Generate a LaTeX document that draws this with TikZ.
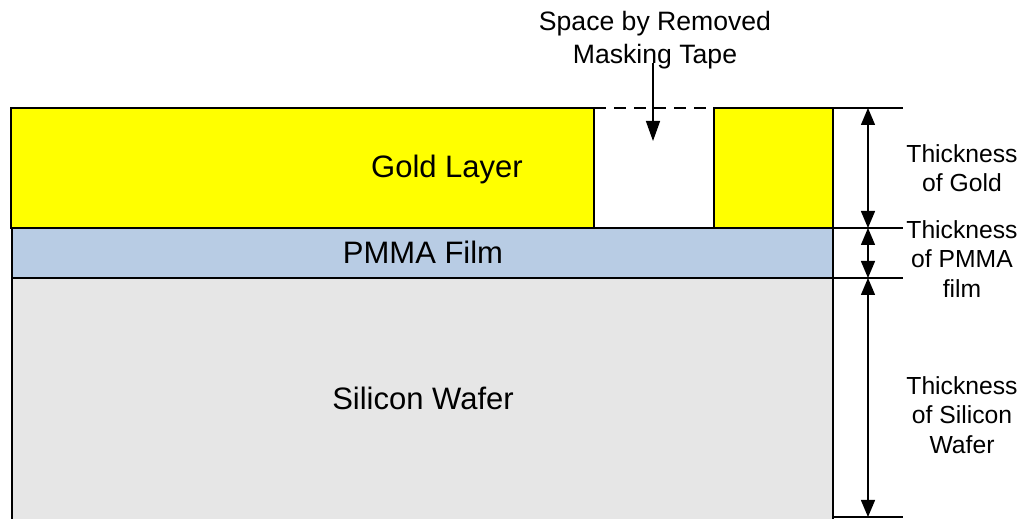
\documentclass[tikz,border=0pt]{standalone}
\usepackage{fontspec}
\setmainfont{Liberation Sans}
\usetikzlibrary{arrows.meta}
\definecolor{goldfill}{HTML}{FFFF00}
\definecolor{pmmafill}{HTML}{B8CCE4}
\definecolor{siliconfill}{HTML}{E6E6E6}

\begin{document}
\begin{tikzpicture}[x=0.5pt,y=-0.5pt]
  \tikzset{layerbox/.style={draw=black,line width=0.7pt}}
  \tikzset{dimline/.style={draw=black,line width=0.6pt}}
  \tikzset{dimarrow/.style={draw=black,line width=0.7pt,{Triangle[length=8.5pt,width=7pt]}-{Triangle[length=8.5pt,width=7pt]}}}
  \tikzset{tapearrow/.style={draw=black,line width=0.7pt,-{Triangle[length=10pt,width=7pt]}}}
  \tikzset{layerlabel/.style={font=\fontsize{15.5}{18}\selectfont,inner sep=0pt,anchor=base}}
  \tikzset{sidelabel/.style={font=\fontsize{12.35}{14.7}\selectfont,align=center,inner sep=0pt}}
  \tikzset{toplabel/.style={font=\fontsize{13.3}{16.5}\selectfont,align=center,inner sep=0pt}}
  \useasboundingbox (0,0) rectangle (1025,519);
  % layers
  \fill[siliconfill] (12,278) rectangle (833,519);
  \draw[layerbox] (12,519) -- (12,278) -- (833,278) -- (833,519);
  \draw[layerbox,fill=pmmafill] (12,228) rectangle (833,278);
  \draw[layerbox,fill=goldfill] (11,108) rectangle (594,228);
  \draw[layerbox,fill=goldfill] (714,108) rectangle (833,228);
  \draw[layerbox,dash pattern=on 6pt off 4pt] (594,108) -- (714,108);
  \node[layerlabel] (gold) at (447,178) {Gold Layer};
  \node[layerlabel] (pmma) at (423,264) {PMMA Film};
  \node[layerlabel] (silicon) at (423,409) {Silicon Wafer};
  % removed tape
  \node[toplabel] (tape) at (655,40) {Space by Removed\\Masking Tape};
  \coordinate (tapetail) at (653,63);
  \coordinate (tapehead) at (653,141);
  \draw[tapearrow] (tapetail) -- (tapehead);
  % thickness marks
  \coordinate (lv1) at (868,108);
  \coordinate (lv2) at (868,228);
  \coordinate (lv3) at (868,278);
  \coordinate (lv4) at (868,517);
  \draw[dimline] (833,108) -- (903,108);
  \draw[dimline] (833,228) -- (903,228);
  \draw[dimline] (833,278) -- (903,278);
  \draw[dimline] (833,517) -- (903,517);
  \draw[dimarrow] (lv1) -- (lv2);
  \draw[dimarrow] (lv2) -- (lv3);
  \draw[dimarrow] (lv3) -- (lv4);
  \node[sidelabel] (tgold) at (962,168) {Thickness\\of Gold};
  \node[sidelabel] (tpmma) at (962,259) {Thickness\\of PMMA\\film};
  \node[sidelabel] (tsilicon) at (962,415) {Thickness\\of Silicon\\Wafer};
\end{tikzpicture}
\end{document}
